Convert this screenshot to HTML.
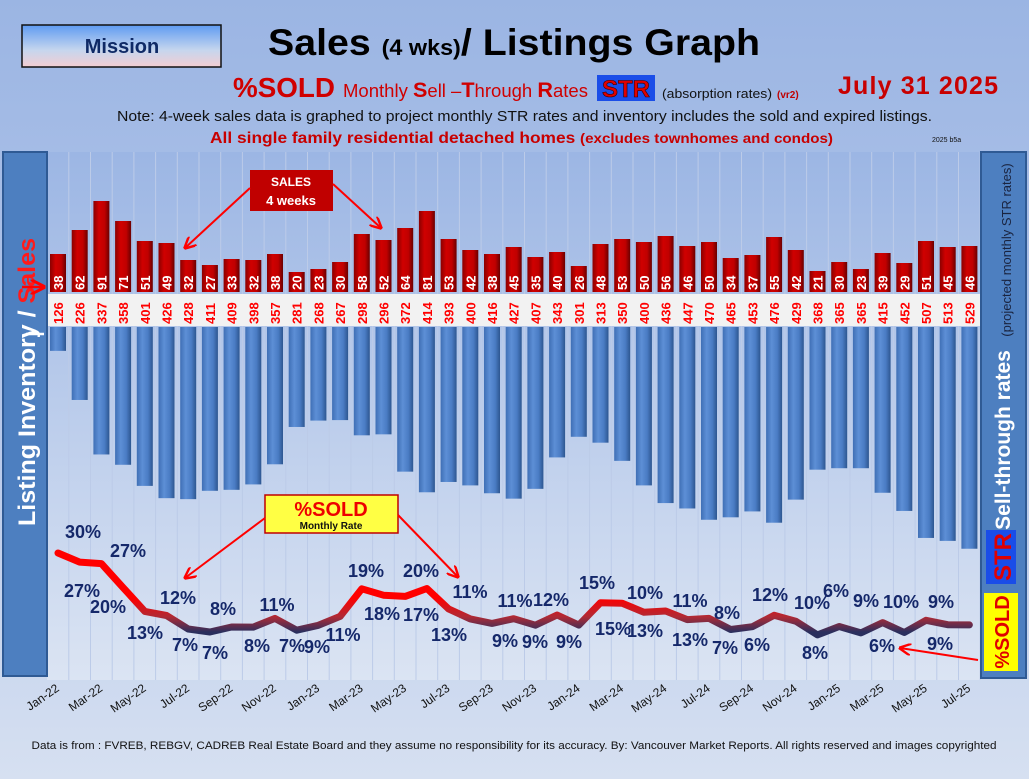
<!DOCTYPE html>
<html><head><meta charset="utf-8"><style>
html,body{margin:0;padding:0;width:1029px;height:779px;overflow:hidden;background:#a3b9e4}
svg{display:block}
text{font-family:"Liberation Sans",sans-serif}
</style></head><body>
<svg id="s" width="1029" height="779" viewBox="0 0 1029 779" xmlns="http://www.w3.org/2000/svg">
<defs>
<linearGradient id="pg" x1="0" y1="0" x2="0" y2="1"><stop offset="0" stop-color="#9bb5e3"/><stop offset="0.5" stop-color="#b3c6ea"/><stop offset="1" stop-color="#d6e0f1"/></linearGradient>
<linearGradient id="plot" x1="0" y1="0" x2="0" y2="1"><stop offset="0" stop-color="#9cb6e4"/><stop offset="1" stop-color="#dbe4f3"/></linearGradient>
<linearGradient id="mis" x1="0" y1="0" x2="0" y2="1"><stop offset="0" stop-color="#5e9bf2"/><stop offset="0.6" stop-color="#c6d6ee"/><stop offset="1" stop-color="#f3cdd2"/></linearGradient>
<linearGradient id="rb" x1="0" y1="0" x2="1" y2="0"><stop offset="0" stop-color="#8a0000"/><stop offset="0.35" stop-color="#d00000"/><stop offset="0.7" stop-color="#c00000"/><stop offset="1" stop-color="#6a0000"/></linearGradient>
<linearGradient id="bb" x1="0" y1="0" x2="1" y2="0"><stop offset="0" stop-color="#3f6fb5"/><stop offset="0.35" stop-color="#5d8fd6"/><stop offset="0.7" stop-color="#4a7cc4"/><stop offset="1" stop-color="#2d5690"/></linearGradient>
<linearGradient id="ln" gradientUnits="userSpaceOnUse" x1="0" y1="598" x2="0" y2="632"><stop offset="0" stop-color="#ff0000"/><stop offset="0.55" stop-color="#b02a35"/><stop offset="1" stop-color="#2a2f5e"/></linearGradient>
<marker id="ar" viewBox="0 0 10 10" refX="9" refY="5" markerWidth="6" markerHeight="6" orient="auto"><path d="M0,0 L10,5 L0,10" fill="none" stroke="#f00" stroke-width="2"/></marker>
</defs>
<rect width="1029" height="779" fill="url(#pg)"/>
<rect x="47" y="152" width="934" height="528" fill="url(#plot)"/>
<g id="grid"></g>
<g id="bars"></g>
<rect x="47" y="294" width="934" height="32" fill="#f2f2f2"/>
<g id="lbl"></g>
<!-- header -->
<rect x="22" y="25" width="199" height="42" fill="url(#mis)" stroke="#111" stroke-width="1.5"/>
<text x="122" y="53" text-anchor="middle" font-size="20" font-weight="bold" fill="#0f2a66">Mission</text>
<text x="268" y="55" font-size="37" font-weight="bold" fill="#000" textLength="492" lengthAdjust="spacingAndGlyphs">Sales <tspan font-size="22">(4 wks)</tspan>/ Listings Graph</text>
<text x="233" y="97" font-size="28" font-weight="bold" fill="#d00000" textLength="102" lengthAdjust="spacingAndGlyphs">%SOLD</text>
<text x="343" y="97" font-size="18" fill="#d00000" textLength="245" lengthAdjust="spacingAndGlyphs">Monthly <tspan font-weight="bold" font-size="21">S</tspan>ell –<tspan font-weight="bold" font-size="21">T</tspan>hrough <tspan font-weight="bold" font-size="21">R</tspan>ates</text>
<rect x="597" y="75" width="58" height="26" fill="#1a4de8"/>
<text x="626" y="97" text-anchor="middle" font-size="24" font-weight="bold" fill="#e00000" stroke="#300" stroke-width="0.6">STR</text>
<text x="662" y="98" font-size="13" fill="#111" textLength="110" lengthAdjust="spacingAndGlyphs">(absorption rates)</text>
<text x="777" y="98" font-size="10" font-weight="bold" fill="#c00000">(vr2)</text>
<text x="838" y="94" font-size="25" font-weight="bold" fill="#c80000" textLength="160" lengthAdjust="spacing">July  31  2025</text>
<text x="117" y="121" font-size="15" fill="#111" textLength="815" lengthAdjust="spacingAndGlyphs">Note: 4-week sales data is graphed to project monthly STR rates and inventory includes the sold and expired listings.</text>
<text x="210" y="143" font-size="16" font-weight="bold" fill="#c80000" textLength="623" lengthAdjust="spacingAndGlyphs">All single family residential detached homes <tspan font-size="14">(excludes townhomes and condos)</tspan></text>
<text x="932" y="142" font-size="7" fill="#111">2025 b5a</text>
<!-- side panels -->
<rect x="3" y="152" width="44" height="524" fill="#4d7fc0" stroke="#2f5a94" stroke-width="2"/>
<text transform="translate(35,526) rotate(-90)" text-anchor="start" font-size="24" font-weight="bold" fill="#fff" textLength="288" lengthAdjust="spacingAndGlyphs">Listing Inventory / <tspan fill="#ff1a1a">Sales</tspan></text>
<path d="M22,287 L44,287" stroke="#f00" stroke-width="2.5" marker-end="url(#ar)"/>
<path d="M26,334 L44,334" stroke="#fff" stroke-width="2.5"/>
<rect x="981" y="152" width="45" height="526" fill="#4d7fc0" stroke="#2f5a94" stroke-width="2"/>
<text transform="translate(1011,250) rotate(-90)" text-anchor="middle" font-size="13" fill="#1a2440">(projected monthly STR rates)</text>
<text transform="translate(1010,440) rotate(-90)" text-anchor="middle" font-size="21" font-weight="bold" fill="#fff">Sell-through rates</text>
<rect x="986" y="530" width="30" height="54" fill="#1a4de8"/>
<text transform="translate(1011,557) rotate(-90)" text-anchor="middle" font-size="24" font-weight="bold" fill="#e00000">STR</text>
<rect x="984" y="593" width="34" height="78" fill="#ffff00"/>
<text transform="translate(1009,632) rotate(-90)" text-anchor="middle" font-size="20" font-weight="bold" fill="#e00000">%SOLD</text>
<!-- line -->
<polyline id="pl" fill="none" stroke="url(#ln)" stroke-width="7" stroke-linejoin="round" stroke-linecap="round"/>
<g id="pct"></g>
<!-- callouts -->
<rect x="250" y="170" width="83" height="41" fill="#c00000"/>
<text x="291" y="186" text-anchor="middle" font-size="12" font-weight="bold" fill="#fff">SALES</text>
<text x="291" y="205" text-anchor="middle" font-size="13" font-weight="bold" fill="#fff">4  weeks</text>
<path d="M250,188 L185,248" stroke="#f00" stroke-width="2" marker-end="url(#ar)"/>
<path d="M333,184 L381,228" stroke="#f00" stroke-width="2" marker-end="url(#ar)"/>
<rect x="265" y="495" width="133" height="38" fill="#ffff44" stroke="#c00000" stroke-width="1.5"/>
<text x="331" y="516" text-anchor="middle" font-size="20" font-weight="bold" fill="#ee0000">%SOLD</text>
<text x="331" y="529" text-anchor="middle" font-size="10" font-weight="bold" fill="#111">Monthly Rate</text>
<path d="M265,518 L185,578" stroke="#f00" stroke-width="2" marker-end="url(#ar)"/>
<path d="M398,515 L458,577" stroke="#f00" stroke-width="2" marker-end="url(#ar)"/>
<path d="M978,660 L900,648" stroke="#f00" stroke-width="2" marker-end="url(#ar)"/>
<g id="xl"></g>
<text x="514" y="749" text-anchor="middle" font-size="11" fill="#111" textLength="965" lengthAdjust="spacingAndGlyphs">Data is from : FVREB, REBGV, CADREB Real Estate Board and they assume no responsibility for its accuracy. By: Vancouver Market Reports. All rights reserved and  images copyrighted</text>
</svg>
<script>
var S=[38,62,91,71,51,49,32,27,33,32,38,20,23,30,58,52,64,81,53,42,38,45,35,40,26,48,53,50,56,46,50,34,37,55,42,21,30,23,39,29,51,45,46];
var I=[126,226,337,358,401,426,428,411,409,398,357,281,268,267,298,296,372,414,393,400,416,427,407,343,301,313,350,400,436,447,470,465,453,476,429,368,365,365,415,452,507,513,529];
var NS="http://www.w3.org/2000/svg";
function el(t,a,p,txt){var e=document.createElementNS(NS,t);for(var k in a)e.setAttribute(k,a[k]);if(txt!=null)e.textContent=txt;document.getElementById(p).appendChild(e);return e;}
function X(i){return 58+i*21.7;}
var pts=[];
for(var i=0;i<43;i++){
 var x=X(i);
 el('line',{x1:x+10.8,y1:152,x2:x+10.8,y2:680,stroke:'#bccbe8','stroke-width':1},'grid');
 el('rect',{x:x-8,y:292-S[i],width:16,height:S[i],fill:'url(#rb)'},'bars');
 var h=0.491*I[i]-38;
 el('rect',{x:x-8,y:327,width:16,height:h,fill:'url(#bb)'},'bars');
 el('text',{transform:'translate('+(x+5)+','+(290)+') rotate(-90)','font-size':13,'font-weight':'bold',fill:'#fff'},'lbl',S[i]);
 el('text',{transform:'translate('+(x+5)+','+(324)+') rotate(-90)','font-size':13,'font-weight':'bold',fill:'#f00'},'lbl',I[i]);
 var p=S[i]/I[i]*100;
 pts.push(x+','+(553+(30.16-p)*3.35).toFixed(1));
}
document.getElementById('pl').setAttribute('points',pts.join(' '));
var L=[["30%",83,531],["27%",82,590],["27%",128,550],["20%",108,606],["13%",145,632],["12%",178,597],["7%",185,644],["7%",215,652],["8%",223,608],["8%",257,645],["11%",277,604],["7%",292,645],["9%",317,646],["11%",343,634],["19%",366,570],["18%",382,613],["17%",421,614],["20%",421,570],["11%",470,591],["13%",449,634],["9%",505,640],["11%",515,600],["9%",535,641],["12%",551,599],["9%",569,641],["15%",597,582],["15%",613,628],["13%",645,630],["10%",645,592],["11%",690,600],["13%",690,639],["7%",725,647],["8%",727,612],["6%",757,644],["12%",770,594],["10%",812,602],["8%",815,652],["6%",836,590],["9%",866,600],["10%",901,601],["6%",882,645],["9%",941,601],["9%",940,643]];
L.forEach(function(l){el('text',{x:l[1],y:l[2]+7,'text-anchor':'middle','font-size':18,'font-weight':'bold',fill:'#15286a'},'pct',l[0]);});
var M=["Jan-22","Mar-22","May-22","Jul-22","Sep-22","Nov-22","Jan-23","Mar-23","May-23","Jul-23","Sep-23","Nov-23","Jan-24","Mar-24","May-24","Jul-24","Sep-24","Nov-24","Jan-25","Mar-25","May-25","Jul-25"];
M.forEach(function(m,k){var x=X(k*2);el('text',{transform:'translate('+(x+2)+',690) rotate(-35)','text-anchor':'end','font-size':12,fill:'#111'},'xl',m);});
</script>
</body></html>
